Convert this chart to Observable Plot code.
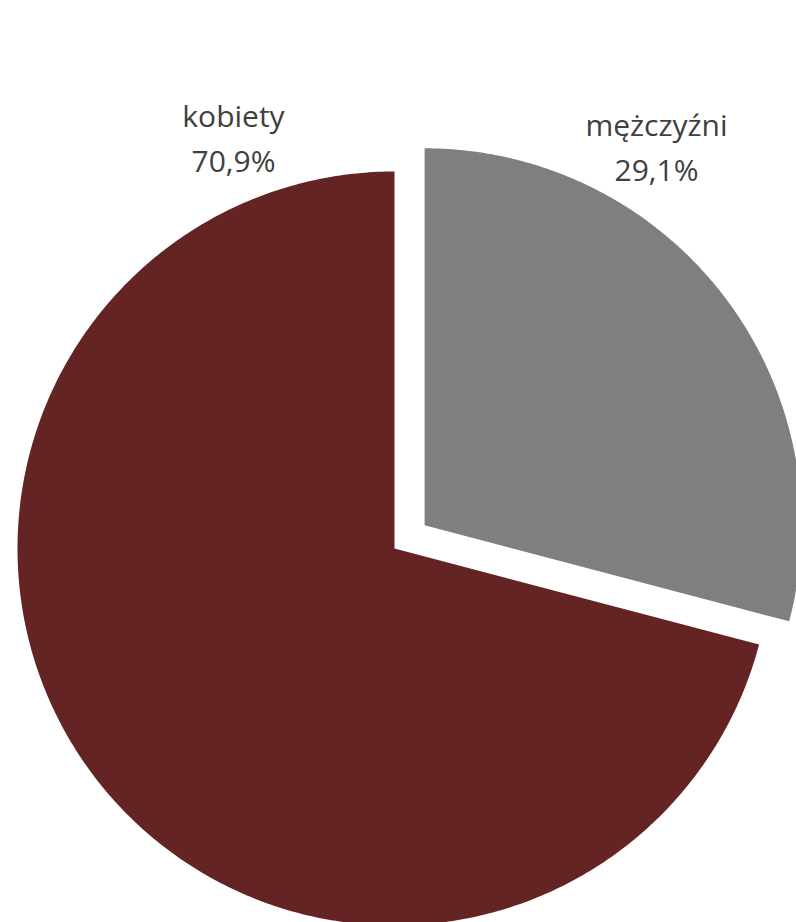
<!DOCTYPE html>
<html>
<head>
<meta charset="utf-8">
<script src="https://cdn.jsdelivr.net/npm/d3@7"></script>
<script src="https://cdn.jsdelivr.net/npm/@observablehq/plot@0.6"></script>
<style>
  html, body { margin: 0; padding: 0; background: #fff; }
  #chart svg { display: block; }
</style>
</head>
<body>
<div id="chart"></div>
<script>
// Data (pie order, clockwise from 12 o'clock)
const categories = ["mężczyźni", "kobiety"];
const values = [29.1, 70.9];
const colors = ["#7f7f7f", "#632423"];
const exploded = [true, false];

// Layout constants (pixels; 1 data unit = 1 px)
const W = 796, H = 922;
const CX = 394, CY = 548;      // pie centre in pixels
const R = 377;                 // radius
const EXPLODE = 38;            // explosion distance
const labelPos = {             // label block centres, relative to pie centre (y up)
  "kobiety": [-161, 413],
  "mężczyźni": [262, 404]
};

const pie = d3.pie().sort(null).value(d => d.value)(
  categories.map((c, i) => ({category: c, value: values[i], exploded: exploded[i]}))
);

const pts = [];
for (const s of pie) {
  const mid = (s.startAngle + s.endAngle) / 2;
  const ox = s.data.exploded ? EXPLODE * Math.sin(mid) : 0;
  const oy = s.data.exploded ? EXPLODE * Math.cos(mid) : 0;
  pts.push({category: s.data.category, x: ox, y: oy});
  const n = 400;
  for (let k = 0; k <= n; k++) {
    const t = s.startAngle + (s.endAngle - s.startAngle) * k / n;
    pts.push({category: s.data.category, x: ox + R * Math.sin(t), y: oy + R * Math.cos(t)});
  }
}

const labels = categories.map((c, i) => ({
  category: c,
  x: labelPos[c][0],
  y: labelPos[c][1],
  text: c + "\n" + values[i].toFixed(1).replace(".", ",") + "%"
}));

const chart = Plot.plot({
  width: W,
  height: H,
  margin: 0,
  style: {background: "#fff", fontFamily: "'Open Sans', sans-serif"},
  x: {domain: [-CX, W - CX], axis: null},
  y: {domain: [-(H - CY), CY], axis: null},
  color: {domain: categories, range: colors},
  marks: [
    Plot.line(pts, {x: "x", y: "y", z: "category", fill: "category", stroke: null, curve: "linear-closed"}),
    Plot.text(labels, {
      x: "x", y: "y", text: "text",
      fontSize: 30, lineHeight: 1.5, fill: "#404040",
      textAnchor: "middle", fontFamily: "'Open Sans', sans-serif"
    })
  ]
});
document.getElementById("chart").appendChild(chart);
</script>
</body>
</html>
